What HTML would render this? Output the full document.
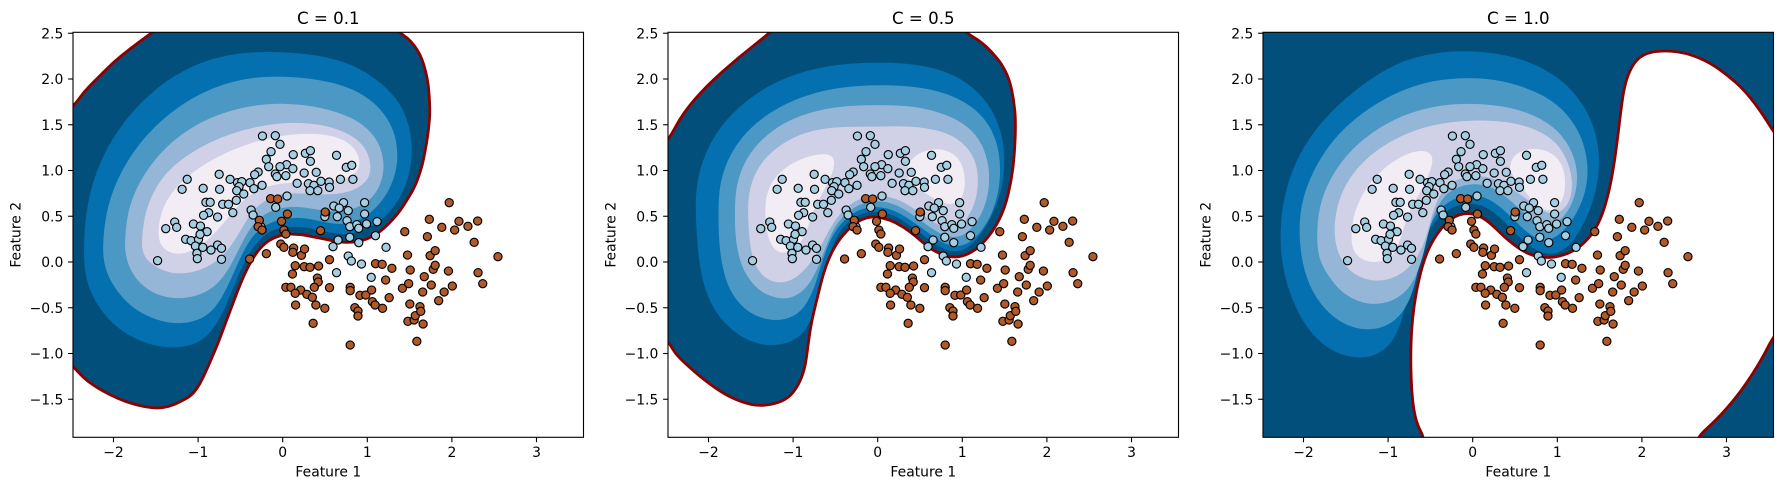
<!DOCTYPE html>
<html><head><meta charset="utf-8">
<style>html,body{margin:0;padding:0;background:#fff}svg{display:block}</style>
</head><body>
<svg xmlns="http://www.w3.org/2000/svg" width="1789" height="490" viewBox="0 0 1789 490">
<rect width="1789" height="490" fill="#fff"/>
<defs>
<clipPath id="cp"><rect x="222.1" y="97" width="1309.3" height="1215"/></clipPath>
<ellipse id="b" rx="10.5" ry="12.3" fill="#a6cee3" stroke="#000" stroke-width="1.15" vector-effect="non-scaling-stroke"/>
<ellipse id="r" rx="10.5" ry="12.3" fill="#b15928" stroke="#000" stroke-width="1.15" vector-effect="non-scaling-stroke"/>
<g id="pts">
<use href="#b" x="708" y="408"/><use href="#b" x="741" y="407"/><use href="#b" x="753" y="433"/><use href="#b" x="730" y="455"/><use href="#b" x="718" y="478"/><use href="#b" x="724" y="500"/><use href="#b" x="697" y="516"/><use href="#b" x="688" y="524"/><use href="#b" x="741" y="522"/><use href="#b" x="745" y="530"/><use href="#b" x="770" y="494"/><use href="#b" x="753" y="500"/><use href="#b" x="787" y="464"/><use href="#b" x="786" y="506"/><use href="#b" x="768" y="527"/><use href="#b" x="797" y="550"/><use href="#b" x="815" y="519"/><use href="#b" x="818" y="460"/><use href="#b" x="831" y="452"/><use href="#b" x="831" y="484"/><use href="#b" x="846" y="517"/><use href="#b" x="826" y="551"/><use href="#b" x="840" y="556"/><use href="#b" x="858" y="544"/><use href="#b" x="830" y="572"/><use href="#b" x="850" y="572"/><use href="#b" x="879" y="546"/><use href="#b" x="880" y="562"/><use href="#b" x="898" y="466"/><use href="#b" x="923" y="502"/><use href="#b" x="937" y="496"/><use href="#b" x="908" y="538"/><use href="#b" x="940" y="538"/><use href="#b" x="970" y="608"/><use href="#b" x="891" y="618"/><use href="#b" x="916" y="608"/><use href="#b" x="905" y="624"/><use href="#b" x="928" y="632"/><use href="#b" x="870" y="640"/><use href="#b" x="868" y="650"/><use href="#b" x="900" y="650"/><use href="#b" x="925" y="662"/><use href="#b" x="932" y="680"/><use href="#b" x="950" y="674"/><use href="#b" x="955" y="685"/><use href="#b" x="970" y="642"/><use href="#b" x="975" y="672"/><use href="#b" x="1002" y="665"/><use href="#b" x="998" y="707"/><use href="#b" x="932" y="712"/><use href="#b" x="955" y="728"/><use href="#b" x="902" y="720"/><use href="#b" x="889" y="740"/><use href="#b" x="928" y="768"/><use href="#b" x="936" y="783"/><use href="#b" x="962" y="792"/><use href="#b" x="1025" y="742"/><use href="#b" x="987" y="832"/><use href="#b" x="898" y="818"/><use href="#b" x="771" y="588"/><use href="#b" x="742" y="622"/><use href="#b" x="597" y="523"/><use href="#b" x="625" y="538"/><use href="#b" x="644" y="548"/><use href="#b" x="655" y="545"/><use href="#b" x="648" y="560"/><use href="#b" x="642" y="572"/><use href="#b" x="660" y="582"/><use href="#b" x="676" y="548"/><use href="#b" x="686" y="566"/><use href="#b" x="707" y="556"/><use href="#b" x="598" y="568"/><use href="#b" x="556" y="565"/><use href="#b" x="515" y="538"/><use href="#b" x="502" y="568"/><use href="#b" x="563" y="607"/><use href="#b" x="574" y="607"/><use href="#b" x="606" y="613"/><use href="#b" x="621" y="613"/><use href="#b" x="641" y="601"/><use href="#b" x="632" y="638"/><use href="#b" x="593" y="651"/><use href="#b" x="570" y="638"/><use href="#b" x="557" y="646"/><use href="#b" x="531" y="672"/><use href="#b" x="549" y="678"/><use href="#b" x="566" y="695"/><use href="#b" x="483" y="666"/><use href="#b" x="488" y="682"/><use href="#b" x="460" y="686"/><use href="#b" x="511" y="718"/><use href="#b" x="525" y="722"/><use href="#b" x="544" y="718"/><use href="#b" x="548" y="703"/><use href="#b" x="536" y="738"/><use href="#b" x="540" y="760"/><use href="#b" x="541" y="776"/><use href="#b" x="555" y="742"/><use href="#b" x="576" y="750"/><use href="#b" x="593" y="735"/><use href="#b" x="603" y="745"/><use href="#b" x="603" y="778"/><use href="#b" x="439" y="782"/><use href="#b" x="679" y="630"/><use href="#b" x="684" y="645"/><use href="#b" x="704" y="680"/>
<use href="#r" x="729" y="596"/><use href="#r" x="747" y="597"/><use href="#r" x="772" y="642"/><use href="#r" x="757" y="664"/><use href="#r" x="763" y="690"/><use href="#r" x="768" y="702"/><use href="#r" x="700" y="661"/><use href="#r" x="697" y="680"/><use href="#r" x="707" y="690"/><use href="#r" x="755" y="732"/><use href="#r" x="763" y="742"/><use href="#r" x="788" y="744"/><use href="#r" x="786" y="757"/><use href="#r" x="808" y="766"/><use href="#r" x="816" y="747"/><use href="#r" x="675" y="777"/><use href="#r" x="718" y="761"/><use href="#r" x="869" y="636"/><use href="#r" x="857" y="692"/><use href="#r" x="880" y="779"/><use href="#r" x="815" y="800"/><use href="#r" x="830" y="802"/><use href="#r" x="792" y="797"/><use href="#r" x="852" y="798"/><use href="#r" x="785" y="822"/><use href="#r" x="849" y="834"/><use href="#r" x="851" y="846"/><use href="#r" x="841" y="862"/><use href="#r" x="768" y="862"/><use href="#r" x="781" y="862"/><use href="#r" x="806" y="870"/><use href="#r" x="792" y="880"/><use href="#r" x="822" y="883"/><use href="#r" x="836" y="892"/><use href="#r" x="793" y="915"/><use href="#r" x="845" y="915"/><use href="#r" x="868" y="925"/><use href="#r" x="838" y="970"/><use href="#r" x="880" y="863"/><use href="#r" x="933" y="862"/><use href="#r" x="933" y="872"/><use href="#r" x="958" y="886"/><use href="#r" x="973" y="885"/><use href="#r" x="988" y="870"/><use href="#r" x="945" y="923"/><use href="#r" x="953" y="933"/><use href="#r" x="953" y="948"/><use href="#r" x="990" y="905"/><use href="#r" x="997" y="915"/><use href="#r" x="1016" y="925"/><use href="#r" x="1033" y="893"/><use href="#r" x="1024" y="840"/><use href="#r" x="1040" y="805"/><use href="#r" x="998" y="791"/><use href="#r" x="1015" y="793"/><use href="#r" x="933" y="1035"/><use href="#r" x="1073" y="695"/><use href="#r" x="1080" y="765"/><use href="#r" x="1087" y="810"/><use href="#r" x="1067" y="865"/><use href="#r" x="1083" y="851"/><use href="#r" x="1086" y="912"/><use href="#r" x="1081" y="964"/><use href="#r" x="1097" y="960"/><use href="#r" x="1100" y="947"/><use href="#r" x="1112" y="920"/><use href="#r" x="1114" y="934"/><use href="#r" x="1104" y="1024"/><use href="#r" x="1120" y="972"/><use href="#r" x="1123" y="830"/><use href="#r" x="1119" y="876"/><use href="#r" x="1141" y="855"/><use href="#r" x="1131" y="710"/><use href="#r" x="1136" y="658"/><use href="#r" x="1168" y="682"/><use href="#r" x="1187" y="608"/><use href="#r" x="1201" y="690"/><use href="#r" x="1212" y="664"/><use href="#r" x="1235" y="679"/><use href="#r" x="1260" y="663"/><use href="#r" x="1251" y="727"/><use href="#r" x="1138" y="767"/><use href="#r" x="1151" y="752"/><use href="#r" x="1146" y="808"/><use href="#r" x="1151" y="796"/><use href="#r" x="1185" y="813"/><use href="#r" x="1195" y="858"/><use href="#r" x="1174" y="876"/><use href="#r" x="1160" y="902"/><use href="#r" x="1261" y="818"/><use href="#r" x="1273" y="851"/><use href="#r" x="1312" y="770"/>
</g>
<path id="a0" class="sm" vector-effect="non-scaling-stroke" stroke-linejoin="round" d="M -60,330 L 28,245 60,200 100,160 150,110 200,70 240,40 265,22 295,0 330,-25 370,-55 900,-55 950,-25 980,0 1005,22 1030,38 1050,60 1068,88 1080,120 1090,160 1095,200 1098,260 1095,300 1090,340 1083,380 1075,420 1063,458 1050,490 1035,515 1020,540 1000,568 980,590 960,610 940,625 920,637 900,645 880,650 860,652 840,652 820,650 795,645 770,640 745,635 720,630 700,628 680,627 660,628 640,635 625,641 610,650 595,663 580,680 565,703 550,730 535,763 520,800 505,840 490,880 475,920 460,960 445,995 430,1030 415,1062 400,1090 380,1113 350,1130 315,1145 280,1150 240,1145 200,1135 160,1120 120,1100 90,1082 60,1060 28,1025 -20,980 -60,940 Z"/>
<path id="c0" class="sm" vector-effect="non-scaling-stroke" stroke-linejoin="round" d="M -100,330 L -36,255 7,175 79,93 174,10 275,-68 330,-120 820,-120 870,-68 915,-42 950,-10 982,28 1005,75 1018,135 1024,200 1020,300 1010,380 990,460 960,520 920,570 880,598 840,608 800,600 760,580 720,545 680,515 640,495 600,485 570,487 540,500 510,525 480,560 455,605 435,660 420,720 405,780 395,830 388,885 379,945 358,995 329,1030 287,1047 239,1053 192,1043 138,1020 79,980 25,935 -17,895 -36,860 -100,800 Z"/>
</defs>

<!-- Subplot 1: C = 0.1 -->
<g transform="translate(-13.6,0) scale(0.3899,0.33333)">
 <g clip-path="url(#cp)">
  <g transform="translate(199,75) scale(0.855,1)">
   <use href="#a0" fill="#034f7b"/>
   <path class="sm" fill="#0570b0" d="M 58,700 L 65,560 95,440 150,330 230,230 330,150 440,100 560,80 680,82 790,95 885,128 960,180 1012,240 1038,310 1045,380 1036,450 1012,512 980,558 948,588 912,610 878,623 845,628 810,625 770,617 730,608 690,605 650,608 615,620 585,645 558,680 532,730 505,795 478,860 450,910 410,950 360,966 300,968 230,950 160,910 105,850 70,780 Z"/>
   <path class="sm" fill="#4b98c5" d="M 115,660 L 130,540 175,430 245,330 340,245 450,185 570,155 690,155 800,170 885,200 950,250 990,315 1002,385 995,445 972,502 940,545 905,575 865,593 825,598 785,592 745,583 705,578 668,580 635,587 605,600 578,620 553,652 528,700 502,760 472,822 436,868 385,892 325,896 262,880 200,845 152,790 122,730 Z"/>
   <path class="sm" fill="#95b6d7" d="M 182,640 L 195,540 240,445 310,360 400,295 500,255 610,235 720,238 820,260 895,295 945,350 962,420 950,480 922,522 880,548 835,560 785,558 740,550 698,545 660,547 625,556 595,572 568,597 545,632 520,682 490,740 450,788 395,815 330,822 265,805 212,760 185,700 Z"/>
   <path class="sm" fill="#d0d1e6" d="M 232,650 L 245,550 290,460 360,395 450,345 550,310 660,292 760,296 840,318 895,355 920,405 918,455 890,485 850,502 805,508 760,508 715,505 670,505 632,512 600,528 572,552 548,585 522,630 488,682 440,722 380,745 315,745 262,718 238,690 Z"/>
   <path class="sm" fill="#f2ecf5" d="M 280,640 L 290,560 330,490 400,430 480,385 570,350 660,330 750,325 820,335 870,365 890,410 878,445 840,463 785,470 725,472 665,474 615,482 575,498 540,524 505,562 465,612 415,660 355,690 305,680 Z"/>
   <use href="#a0" fill="none" stroke="#8b0000" stroke-width="2.8"/>
  </g>
 </g>
 <use href="#pts"/>
</g>

<!-- Subplot 2: C = 0.5 -->
<g transform="translate(581.4,0) scale(0.3899,0.33333)">
 <g clip-path="url(#cp)">
  <g transform="translate(254,165) scale(0.84,1)">
   <use href="#c0" fill="#034f7b"/>
   <path class="sm" fill="#0570b0" d="M 45,480 L 50,370 90,260 160,170 260,95 370,50 480,28 590,22 700,25 800,45 880,85 940,145 975,215 990,290 987,370 970,440 940,505 905,555 870,583 838,590 805,583 770,562 730,532 690,503 650,480 605,470 565,472 530,487 500,512 475,548 455,598 440,650 422,720 402,790 368,845 312,870 240,870 165,835 100,765 60,660 Z"/>
   <path class="sm" fill="#4b98c5" d="M 115,480 L 120,380 155,290 215,215 300,155 400,115 500,95 600,90 700,93 790,108 870,140 930,190 965,255 978,330 972,410 950,480 915,535 875,568 840,575 805,566 770,543 730,514 690,487 650,465 605,455 565,458 530,472 498,497 468,535 445,585 425,645 405,710 370,770 320,795 260,795 195,765 145,700 120,600 Z"/>
   <path class="sm" fill="#95b6d7" d="M 165,480 L 170,390 200,310 255,245 330,195 420,165 510,152 600,150 690,152 770,165 850,195 905,240 935,300 945,370 935,440 910,495 875,535 840,548 805,542 770,522 730,494 690,466 650,446 605,437 565,442 530,457 500,480 470,517 445,572 420,640 385,700 340,730 290,730 235,705 190,645 170,570 Z"/>
   <path class="sm" fill="#d0d1e6" d="M 205,480 L 210,400 240,330 295,275 370,235 450,218 530,215 600,215 680,213 760,220 830,240 880,280 905,330 910,390 898,450 870,498 840,520 805,518 770,500 730,473 690,446 650,428 605,420 565,425 530,440 500,462 475,492 450,532 420,590 385,640 340,678 290,685 245,660 215,600 Z"/>
   <path class="sm" fill="#f2ecf5" d="M 258,470 L 262,420 285,370 330,330 385,305 440,295 468,305 470,335 455,375 430,420 405,470 385,530 360,575 325,595 290,590 265,545 Z M 690,360 L 700,315 740,288 790,280 835,295 862,330 870,380 863,425 842,445 810,448 770,430 735,405 705,385 Z"/>
   <use href="#c0" fill="none" stroke="#8b0000" stroke-width="2.8"/>
  </g>
 </g>
 <use href="#pts"/>
</g>

<!-- Subplot 3: C = 1.0 -->
<g transform="translate(1176.4,0) scale(0.3899,0.33333)">
 <g clip-path="url(#cp)">
  <rect x="222.1" y="97" width="1309.3" height="1215" fill="#034f7b"/>
  <g transform="translate(199,75) scale(0.855,1)">
   <path class="sm" fill="#0570b0" d="M 78,640 L 85,540 115,430 170,330 250,240 350,160 450,105 560,80 660,78 760,90 850,120 930,170 990,240 1025,320 1037,400 1030,480 1010,550 982,610 952,655 920,680 890,688 860,682 830,665 800,640 770,610 740,580 710,555 680,540 650,535 620,538 590,550 560,570 535,600 512,640 490,690 472,760 456,840 437,905 410,958 368,990 320,1000 260,990 200,955 145,890 105,800 85,720 Z"/>
   <path class="sm" fill="#4b98c5" d="M 135,640 L 140,540 175,440 235,345 320,265 420,205 520,170 620,158 720,162 810,185 895,225 955,285 990,355 1003,430 995,500 970,562 938,608 905,637 875,647 845,640 815,618 785,590 755,560 725,535 695,518 662,510 630,512 598,522 568,542 545,570 525,608 508,660 495,720 480,790 455,850 415,895 360,915 300,910 240,880 185,820 150,740 Z"/>
   <path class="sm" fill="#95b6d7" d="M 188,640 L 195,545 230,455 290,375 370,310 460,265 560,240 660,235 760,245 840,270 905,310 948,365 970,430 968,495 948,550 918,588 885,604 852,598 822,575 792,548 762,520 730,497 700,482 665,477 632,480 600,492 575,510 553,540 535,580 520,635 505,700 480,770 440,815 385,838 325,835 265,805 220,750 195,700 Z"/>
   <path class="sm" fill="#d0d1e6" d="M 240,640 L 245,555 275,475 330,405 405,350 495,310 590,290 690,285 780,293 850,315 905,350 938,400 955,460 952,515 932,552 902,568 870,560 840,540 808,515 775,492 742,472 708,458 672,452 638,455 605,465 580,483 558,510 540,550 525,605 505,670 470,725 420,760 360,770 300,750 260,705 Z"/>
   <path class="sm" fill="#f2ecf5" d="M 290,640 L 300,560 340,480 400,420 460,385 510,375 535,390 535,420 520,460 500,500 475,540 455,590 440,640 420,690 380,712 335,710 300,685 Z M 765,430 L 778,392 815,372 862,372 900,388 925,420 935,465 930,515 910,550 880,558 850,545 825,515 800,480 778,455 Z"/>
   <path class="sm" fill="#fff" stroke="#8b0000" stroke-width="2.8" vector-effect="non-scaling-stroke" stroke-linejoin="round" d="M 520,1320 L 510,1237 490,1200 478,1150 472,1080 470,1000 472,920 480,840 495,760 515,690 540,640 570,600 600,575 630,565 660,567 690,580 720,605 750,635 780,660 810,680 840,693 870,698 900,697 930,690 960,677 990,655 1020,620 1045,570 1065,500 1080,420 1092,330 1100,260 1110,190 1125,140 1150,100 1185,82 1230,77 1275,80 1320,92 1370,115 1420,150 1470,195 1510,245 1540,290 1555,315 1620,400 1620,850 1555,940 1530,990 1500,1040 1460,1100 1410,1160 1370,1200 1330,1237 1300,1320 Z"/>
  </g>
 </g>
 <use href="#pts"/>
</g>

<!-- Axes, ticks, labels -->
<g font-family="DejaVu Sans, Liberation Sans, sans-serif" fill="#000">
 <!-- subplot 1 -->
 <g>
  <rect x="73" y="32.3" width="510.5" height="405" fill="none" stroke="#000" stroke-width="1.1"/>
  <g stroke="#000" stroke-width="1.1">
   <line x1="113.5" y1="437.3" x2="113.5" y2="442.2"/><line x1="198.1" y1="437.3" x2="198.1" y2="442.2"/><line x1="282.7" y1="437.3" x2="282.7" y2="442.2"/><line x1="367.3" y1="437.3" x2="367.3" y2="442.2"/><line x1="451.9" y1="437.3" x2="451.9" y2="442.2"/><line x1="536.5" y1="437.3" x2="536.5" y2="442.2"/>
   <line x1="68.1" y1="33.25" x2="73" y2="33.25"/><line x1="68.1" y1="79" x2="73" y2="79"/><line x1="68.1" y1="124.75" x2="73" y2="124.75"/><line x1="68.1" y1="170.5" x2="73" y2="170.5"/><line x1="68.1" y1="216.25" x2="73" y2="216.25"/><line x1="68.1" y1="262" x2="73" y2="262"/><line x1="68.1" y1="307.75" x2="73" y2="307.75"/><line x1="68.1" y1="353.5" x2="73" y2="353.5"/><line x1="68.1" y1="399.25" x2="73" y2="399.25"/>
  </g>
  <g font-size="13.9" text-anchor="middle">
   <text x="113.5" y="457.2">−2</text><text x="198.1" y="457.2">−1</text><text x="282.7" y="457.2">0</text><text x="367.3" y="457.2">1</text><text x="451.9" y="457.2">2</text><text x="536.5" y="457.2">3</text>
  </g>
  <g font-size="13.9" text-anchor="end">
   <text x="63.3" y="38.3">2.5</text><text x="63.3" y="84">2.0</text><text x="63.3" y="129.8">1.5</text><text x="63.3" y="175.5">1.0</text><text x="63.3" y="221.3">0.5</text><text x="63.3" y="267">0.0</text><text x="63.3" y="312.8">−0.5</text><text x="63.3" y="358.5">−1.0</text><text x="63.3" y="404.3">−1.5</text>
  </g>
  <text x="328.3" y="24" font-size="16.67" text-anchor="middle">C = 0.1</text>
  <text x="328.3" y="476.7" font-size="13.9" text-anchor="middle">Feature 1</text>
  <text transform="translate(20.5,234.8) rotate(-90)" font-size="13.9" text-anchor="middle">Feature 2</text>
 </g>
 <!-- subplot 2 -->
 <g>
  <rect x="668" y="32.3" width="510.5" height="405" fill="none" stroke="#000" stroke-width="1.1"/>
  <g stroke="#000" stroke-width="1.1">
   <line x1="708.5" y1="437.3" x2="708.5" y2="442.2"/><line x1="793.1" y1="437.3" x2="793.1" y2="442.2"/><line x1="877.7" y1="437.3" x2="877.7" y2="442.2"/><line x1="962.3" y1="437.3" x2="962.3" y2="442.2"/><line x1="1046.9" y1="437.3" x2="1046.9" y2="442.2"/><line x1="1131.5" y1="437.3" x2="1131.5" y2="442.2"/>
   <line x1="663.1" y1="33.25" x2="668" y2="33.25"/><line x1="663.1" y1="79" x2="668" y2="79"/><line x1="663.1" y1="124.75" x2="668" y2="124.75"/><line x1="663.1" y1="170.5" x2="668" y2="170.5"/><line x1="663.1" y1="216.25" x2="668" y2="216.25"/><line x1="663.1" y1="262" x2="668" y2="262"/><line x1="663.1" y1="307.75" x2="668" y2="307.75"/><line x1="663.1" y1="353.5" x2="668" y2="353.5"/><line x1="663.1" y1="399.25" x2="668" y2="399.25"/>
  </g>
  <g font-size="13.9" text-anchor="middle">
   <text x="708.5" y="457.2">−2</text><text x="793.1" y="457.2">−1</text><text x="877.7" y="457.2">0</text><text x="962.3" y="457.2">1</text><text x="1046.9" y="457.2">2</text><text x="1131.5" y="457.2">3</text>
  </g>
  <g font-size="13.9" text-anchor="end">
   <text x="658.3" y="38.3">2.5</text><text x="658.3" y="84">2.0</text><text x="658.3" y="129.8">1.5</text><text x="658.3" y="175.5">1.0</text><text x="658.3" y="221.3">0.5</text><text x="658.3" y="267">0.0</text><text x="658.3" y="312.8">−0.5</text><text x="658.3" y="358.5">−1.0</text><text x="658.3" y="404.3">−1.5</text>
  </g>
  <text x="923.3" y="24" font-size="16.67" text-anchor="middle">C = 0.5</text>
  <text x="923.3" y="476.7" font-size="13.9" text-anchor="middle">Feature 1</text>
  <text transform="translate(615.5,234.8) rotate(-90)" font-size="13.9" text-anchor="middle">Feature 2</text>
 </g>
 <!-- subplot 3 -->
 <g>
  <rect x="1263" y="32.3" width="510.5" height="405" fill="none" stroke="#000" stroke-width="1.1"/>
  <g stroke="#000" stroke-width="1.1">
   <line x1="1303.5" y1="437.3" x2="1303.5" y2="442.2"/><line x1="1388.1" y1="437.3" x2="1388.1" y2="442.2"/><line x1="1472.7" y1="437.3" x2="1472.7" y2="442.2"/><line x1="1557.3" y1="437.3" x2="1557.3" y2="442.2"/><line x1="1641.9" y1="437.3" x2="1641.9" y2="442.2"/><line x1="1726.5" y1="437.3" x2="1726.5" y2="442.2"/>
   <line x1="1258.1" y1="33.25" x2="1263" y2="33.25"/><line x1="1258.1" y1="79" x2="1263" y2="79"/><line x1="1258.1" y1="124.75" x2="1263" y2="124.75"/><line x1="1258.1" y1="170.5" x2="1263" y2="170.5"/><line x1="1258.1" y1="216.25" x2="1263" y2="216.25"/><line x1="1258.1" y1="262" x2="1263" y2="262"/><line x1="1258.1" y1="307.75" x2="1263" y2="307.75"/><line x1="1258.1" y1="353.5" x2="1263" y2="353.5"/><line x1="1258.1" y1="399.25" x2="1263" y2="399.25"/>
  </g>
  <g font-size="13.9" text-anchor="middle">
   <text x="1303.5" y="457.2">−2</text><text x="1388.1" y="457.2">−1</text><text x="1472.7" y="457.2">0</text><text x="1557.3" y="457.2">1</text><text x="1641.9" y="457.2">2</text><text x="1726.5" y="457.2">3</text>
  </g>
  <g font-size="13.9" text-anchor="end">
   <text x="1253.3" y="38.3">2.5</text><text x="1253.3" y="84">2.0</text><text x="1253.3" y="129.8">1.5</text><text x="1253.3" y="175.5">1.0</text><text x="1253.3" y="221.3">0.5</text><text x="1253.3" y="267">0.0</text><text x="1253.3" y="312.8">−0.5</text><text x="1253.3" y="358.5">−1.0</text><text x="1253.3" y="404.3">−1.5</text>
  </g>
  <text x="1518.3" y="24" font-size="16.67" text-anchor="middle">C = 1.0</text>
  <text x="1518.3" y="476.7" font-size="13.9" text-anchor="middle">Feature 1</text>
  <text transform="translate(1210.5,234.8) rotate(-90)" font-size="13.9" text-anchor="middle">Feature 2</text>
 </g>
</g>
</svg>
<script>
(function(){
  var ps = document.querySelectorAll('path.sm');
  for (var i = 0; i < ps.length; i++) {
    var d = ps[i].getAttribute('d');
    var subs = d.split('M');
    var out = '';
    for (var s = 0; s < subs.length; s++) {
      var str = subs[s].replace(/[LZz]/g, ' ').trim();
      if (!str) continue;
      var nums = str.split(/[\s,]+/).map(Number);
      var pts = [];
      for (var k = 0; k + 1 < nums.length; k += 2) pts.push([nums[k], nums[k+1]]);
      var n = pts.length;
      if (n < 3) continue;
      var mx = (pts[n-1][0] + pts[0][0]) / 2, my = (pts[n-1][1] + pts[0][1]) / 2;
      out += 'M' + mx.toFixed(2) + ',' + my.toFixed(2);
      for (var j = 0; j < n; j++) {
        var p = pts[j], q = pts[(j+1) % n];
        out += 'Q' + p[0] + ',' + p[1] + ' ' + ((p[0]+q[0])/2).toFixed(2) + ',' + ((p[1]+q[1])/2).toFixed(2);
      }
      out += 'Z';
    }
    if (out) ps[i].setAttribute('d', out);
  }
})();
</script>
</body></html>
